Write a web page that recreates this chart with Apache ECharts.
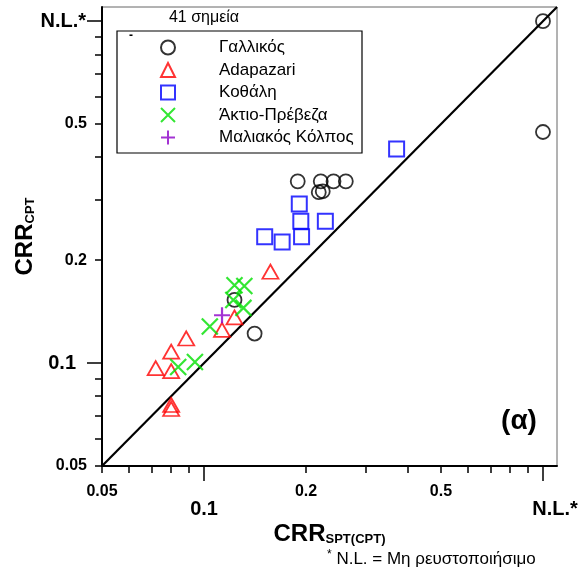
<!DOCTYPE html>
<html>
<head>
<meta charset="utf-8">
<script src="https://cdn.jsdelivr.net/npm/echarts@6/dist/echarts.min.js"></script>
<style>html,body{margin:0;padding:0;background:#fff}#c{width:584px;height:572px}</style>
</head>
<body>
<div id="c"></div>
<script>
// ---- data ----
const seriesNames = ['Γαλλικός', 'Adapazari', 'Κοθάλη', 'Άκτιο-Πρέβεζα', 'Μαλιακός Κόλπος'];
const gallikos = [[1.0,1.0],[1.0,0.474],[0.189,0.340],[0.221,0.340],[0.241,0.340],[0.262,0.340],[0.218,0.316],[0.224,0.318],[0.141,0.122],[0.123,0.153]];
const adapazari = [[0.157,0.185],[0.123,0.136],[0.113,0.125],[0.0886,0.118],[0.080,0.108],[0.072,0.0967],[0.080,0.0947],[0.080,0.0754],[0.080,0.0734]];
const kothali = [[0.191,0.292],[0.193,0.260],[0.151,0.234],[0.170,0.226],[0.194,0.234],[0.228,0.260],[0.370,0.423]];
const aktio = [[0.123,0.169],[0.1315,0.168],[0.122,0.153],[0.1307,0.145],[0.104,0.128],[0.094,0.1007],[0.0839,0.0974]];
const maliakos = [[0.113,0.138]];
const diagonal = [[0.05,0.05],[1.1,1.1]];
const minorTicks = [0.05,0.06,0.07,0.08,0.09,0.2,0.3,0.4,0.5,0.6,0.7,0.8,0.9];
const majorTicks = [0.1, 1];
const smallLabels = [0.05, 0.2, 0.5];
const bigLabels = [0.1, 1];
const axisMin = 0.05, axisMax = 1.1;

const chart = echarts.init(document.getElementById('c'));
const FONT = 'Liberation Sans, Arial, sans-serif';
function isOne(v){ return Math.abs(v-1) < 1e-6; }

function baseAxis(extra){
  return Object.assign({
    type: 'log', logBase: 10, min: axisMin, max: axisMax,
    splitLine: {show:false},
    axisLine: {show:false},
  }, extra);
}

const xAxes = [
  baseAxis({
    position:'bottom',
    axisLine:{show:true, onZero:false, lineStyle:{color:'#000', width:2}},
    axisTick:{show:true, length:7, customValues:minorTicks, lineStyle:{color:'#000', width:1.5}},
    axisLabel:{show:true, customValues:smallLabels, margin:18, color:'#000', fontFamily:FONT, fontWeight:'bold', fontSize:16,
      formatter:(v)=>String(+v.toFixed(3))},
    name:'{a|CRR}{b|SPT(CPT)}', nameLocation:'middle', nameGap:56,
    nameTextStyle:{fontFamily:FONT, color:'#000', rich:{
      a:{fontSize:24, fontWeight:'bold', fontFamily:FONT, color:'#000'},
      b:{fontSize:13, fontWeight:'bold', fontFamily:FONT, color:'#000', padding:[10,0,0,0]}
    }}
  }),
  baseAxis({
    position:'bottom',
    axisTick:{show:true, length:15, customValues:majorTicks, lineStyle:{color:'#000', width:1.5}},
    axisLabel:{show:true, customValues:bigLabels, margin:33, color:'#000', fontFamily:FONT, fontWeight:'bold', fontSize:20,
      formatter:(v)=> isOne(v) ? '{nl|N.L.*}' : '{b|'+(+v.toFixed(3))+'}',
      rich:{nl:{fontSize:20, fontWeight:'bold', fontFamily:FONT, color:'#000', padding:[0,0,0,24]},
            b:{fontSize:20, fontWeight:'bold', fontFamily:FONT, color:'#000'}}}
  })
];
const yAxes = [
  baseAxis({
    position:'left',
    axisLine:{show:true, onZero:false, lineStyle:{color:'#000', width:2}},
    axisTick:{show:true, length:7, customValues:minorTicks, lineStyle:{color:'#000', width:1.5}},
    axisLabel:{show:true, customValues:smallLabels, margin:15, color:'#000', fontFamily:FONT, fontWeight:'bold', fontSize:16,
      formatter:(v)=>String(+v.toFixed(3))},
    name:'{a|CRR}{b|CPT}', nameLocation:'middle', nameGap:65, nameRotate:90,
    nameTextStyle:{fontFamily:FONT, color:'#000', rich:{
      a:{fontSize:24, fontWeight:'bold', fontFamily:FONT, color:'#000'},
      b:{fontSize:13, fontWeight:'bold', fontFamily:FONT, color:'#000', padding:[10,0,0,0]}
    }}
  }),
  baseAxis({
    position:'left',
    axisTick:{show:true, length:15, customValues:majorTicks, lineStyle:{color:'#000', width:1.5}},
    axisLabel:{show:true, customValues:bigLabels, margin:16, color:'#000', fontFamily:FONT, fontWeight:'bold', fontSize:20,
      formatter:(v)=> isOne(v) ? '{nl|N.L.*}' : '{b|'+(+v.toFixed(3))+'}',
      rich:{nl:{fontSize:20, fontWeight:'bold', fontFamily:FONT, color:'#000'},
            b:{fontSize:20, fontWeight:'bold', fontFamily:FONT, color:'#000', padding:[0,10,0,0]}}}
  })
];

const hollow = (c, w) => ({color:'transparent', borderColor:c, borderWidth:w});

chart.setOption({
  animation:false,
  backgroundColor:'#fff',
  grid:{left:102, right:27, top:7, bottom:106, show:true, borderColor:'#666', borderWidth:1, backgroundColor:'transparent'},
  xAxis:xAxes,
  yAxis:yAxes,
  legend:{
    data:seriesNames, orient:'vertical', left:155, top:34, itemWidth:14, itemHeight:14, itemGap:5.5,
    selectedMode:false,
    textStyle:{fontFamily:FONT, fontSize:17, color:'#000', padding:[0,0,0,39]}
  },
  graphic:[
    {type:'rect', shape:{x:117, y:31, width:245, height:122}, style:{fill:'none', stroke:'#000', lineWidth:1.2}, z:0},
    {type:'text', x:204, y:18, style:{text:'41 σημεία', font:'16px '+FONT, fill:'#000', align:'center', verticalAlign:'middle'}},
    {type:'text', x:131, y:36, style:{text:'-', font:'bold 12px '+FONT, fill:'#000', align:'center', verticalAlign:'middle'}},
    {type:'text', x:519, y:421, style:{text:'(α)', font:'bold 28px '+FONT, fill:'#000', align:'center', verticalAlign:'middle'}},
    {type:'text', x:327, y:559, style:{text:'{s|*}{t| N.L. = Μη ρευστοποιήσιμο}', fill:'#000', verticalAlign:'middle',
      rich:{s:{fontSize:12, fontFamily:FONT, fill:'#000', padding:[0,0,8,0]}, t:{fontSize:17, fontFamily:FONT, fill:'#000'}}}}
  ],
  series:[
    {type:'line', data:diagonal, xAxisIndex:0, yAxisIndex:0, symbol:'none', lineStyle:{color:'#000', width:2.2}, z:1, silent:true},
    {name:seriesNames[0], type:'scatter', data:gallikos, symbol:'circle', symbolSize:14, itemStyle:hollow('#000',1.8), z:3},
    {name:seriesNames[1], type:'scatter', data:adapazari, symbol:'triangle', symbolSize:[16,14], itemStyle:hollow('#ff0000',1.8), z:3},
    {name:seriesNames[2], type:'scatter', data:kothali, symbol:'rect', symbolSize:15, itemStyle:hollow('#0000ff',2), z:3},
    {name:seriesNames[3], type:'scatter', data:aktio, symbol:'path://M0,0L10,10M0,10L10,0', symbolSize:16, itemStyle:hollow('#00e000',2.2), z:3},
    {name:seriesNames[4], type:'scatter', data:maliakos, symbol:'path://M5,0L5,10M0,5L10,5', symbolSize:16, itemStyle:hollow('#8c00c8',2.2), z:3}
  ]
});
</script>
</body>
</html>
